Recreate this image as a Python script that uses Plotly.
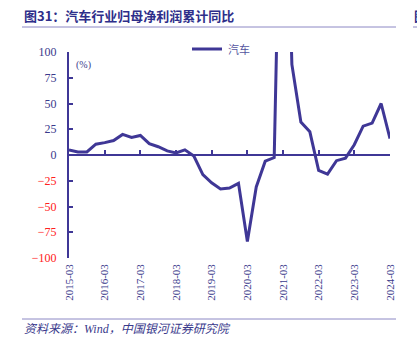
import plotly.graph_objects as go

dates = [f"{y}-{m}" for y in range(2015, 2025) for m in ("03-31", "06-30", "09-30", "12-31")][:37]
values = [5, 3, 3, 10.5, 12, 14, 20, 17, 19, 11, 8, 4, 2, 5, -1,
          -19, -27, -33, -32, -27.5, -84, -31, -6, -2.5,
          400, 88, 32, 22.5, -15, -18.5, -5.5, -3, 10, 28, 31, 50, 16]
series_name = "汽车"
tick_years = list(range(2015, 2025))
tick_vals = [f"{y}-03-31" for y in tick_years]
tick_text = [f"{y}-03" for y in tick_years]
y_ticks = [100, 75, 50, 25, 0, -25, -50, -75, -100]

W, H = 417, 349
L, R, T, B = 69, 390, 52, 258
line_col = "#3F3796"
text_col = "#3A3A8C"
serif = "Liberation Serif, Times New Roman, serif"
cjk = "Noto Sans CJK SC, sans-serif"

def px_x(px):
    return (px - L) / (R - L)

def px_y(py):
    return (B - py) / (B - T)

y_text = []
for v in y_ticks:
    if v < 0:
        y_text.append(f'<span style="color:#FF2020">−{abs(v)}</span>')
    else:
        y_text.append(str(v))

fig = go.Figure()
fig.add_trace(go.Scatter(x=dates, y=values, mode="lines", name=series_name,
                         line=dict(color=line_col, width=3), showlegend=False))
# dummy on xaxis2 for the zero-line axis
fig.add_trace(go.Scatter(x=[dates[0]], y=[None], xaxis="x2", showlegend=False, hoverinfo="skip"))

fig.update_layout(
    width=W, height=H,
    margin=dict(l=L, r=W - R, t=T, b=H - B),
    paper_bgcolor="white", plot_bgcolor="white",
    xaxis=dict(type="date", range=[dates[0], dates[-1]], tickvals=tick_vals, ticktext=tick_text,
               tickangle=-90, showline=False, ticks="", showgrid=False, zeroline=False,
               ticklabelstandoff=3,
               tickfont=dict(family=serif, size=11, color=text_col)),
    xaxis2=dict(type="date", overlaying="x", matches="x", anchor="free", position=0.5,
                side="bottom", showline=True, linecolor=line_col, linewidth=2,
                ticks="inside", ticklen=4, tickwidth=1.5, tickcolor=line_col,
                tickvals=tick_vals, showticklabels=False, showgrid=False, zeroline=False),
    yaxis=dict(range=[-100, 100], tickvals=y_ticks, ticktext=y_text, showgrid=False,
               zeroline=False, showline=True, linecolor=line_col, linewidth=2,
               ticks="inside", ticklen=4, tickwidth=1.5, tickcolor=line_col,
               ticklabelstandoff=8,
               tickfont=dict(family=serif, size=12, color=text_col)),
    showlegend=False,
)

ann = [
    dict(x=px_x(22), y=px_y(15), text="<b>图31：汽车行业归母净利润累计同比</b>",
         font=dict(family=cjk, size=13, color="#2E2E8A"), xanchor="left", yanchor="middle"),
    dict(x=px_x(412), y=px_y(15), text="<b>图</b>",
         font=dict(family=cjk, size=13, color="#2E2E8A"), xanchor="left", yanchor="middle"),
    dict(x=px_x(74), y=px_y(65), text="(%)",
         font=dict(family=serif, size=10, color=text_col), xanchor="left", yanchor="middle"),
    dict(x=px_x(226), y=px_y(49), text=series_name,
         font=dict(family=cjk, size=11, color="#5555A0"), xanchor="left", yanchor="middle"),
    dict(x=px_x(22), y=px_y(329), text="<i>资料来源：Wind，中国银河证券研究院</i>",
         font=dict(family="Liberation Serif, Noto Sans CJK SC, serif", size=12, color="#3A3A8C"),
         xanchor="left", yanchor="middle"),
]
for a in ann:
    a.update(xref="paper", yref="paper", showarrow=False)
fig.update_layout(annotations=ann)

shapes = [
    dict(type="line", x0=px_x(22), x1=px_x(396), y0=px_y(27), y1=px_y(27),
         line=dict(color="#8C88C4", width=1)),
    dict(type="line", x0=px_x(413), x1=px_x(420), y0=px_y(27), y1=px_y(27),
         line=dict(color="#8C88C4", width=1)),
    dict(type="line", x0=px_x(22), x1=px_x(396), y0=px_y(319), y1=px_y(319),
         line=dict(color="#8C88C4", width=1)),
    dict(type="line", x0=px_x(192), x1=px_x(222), y0=px_y(49), y1=px_y(49),
         line=dict(color=line_col, width=3)),
]
for s in shapes:
    s.update(xref="paper", yref="paper")
fig.update_layout(shapes=shapes)

fig.write_html("out.html")
